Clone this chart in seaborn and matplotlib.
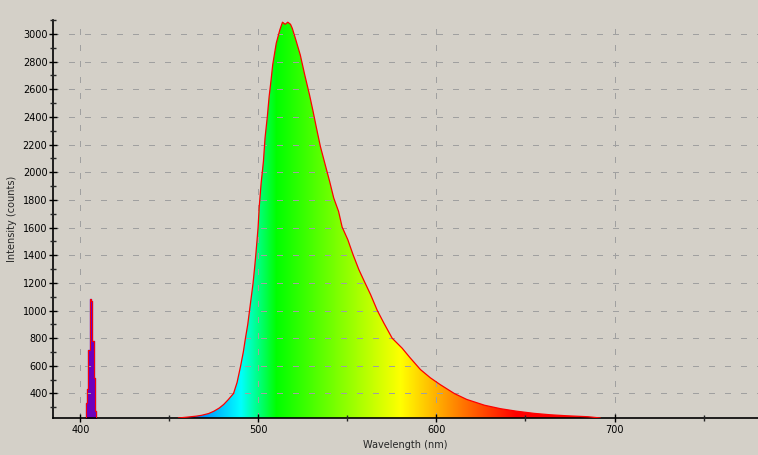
import numpy as np
import matplotlib
matplotlib.use('Agg')
import matplotlib.pyplot as plt
import seaborn as sns

# emission spectrum (nm, counts)
wavelength = [455, 460, 465, 468, 472, 475, 478, 480.5, 483, 486, 488, 490, 491.5,
              492.7, 494, 495, 496, 497, 498, 498.5, 499.8, 500.4, 501.5, 502.8,
              503.7, 505, 506, 507, 508, 510, 512, 513.5, 515, 516.5, 518, 519,
              521, 523.5, 526, 528.7, 530.7, 532.6, 534.8, 537.5, 540, 542.3, 545,
              547, 550.2, 553.2, 556.4, 559.6, 563, 566.7, 570.5, 575.1, 580.7,
              585.2, 591, 596.6, 602, 610, 617, 627, 636, 645, 655, 664, 673,
              685, 692]
counts = [223, 229, 236, 242, 255, 272, 295, 321, 355, 400, 480, 600, 700,
          800, 900, 1000, 1100, 1200, 1330, 1400, 1600, 1743, 1920, 2078,
          2247, 2403, 2547, 2656, 2776, 2933, 3029, 3085, 3070, 3085, 3070, 3041,
          2957, 2848, 2704, 2559, 2439, 2319, 2186, 2054, 1933, 1813, 1717,
          1604, 1512, 1402, 1296, 1207, 1115, 1002, 908, 800, 728,
          658, 573, 513, 465, 400, 357, 315, 290, 272, 256, 246, 239,
          232, 223]

# excitation laser line
laser_wl = [402.9, 403.5, 404.2, 404.8, 405.6, 406.3, 407.0, 407.8, 408.5, 409.0]
laser_counts = [223, 333, 434, 711, 1086, 1072, 778, 513, 273, 223]

x_ticks = [400, 500, 600, 700]
y_ticks = list(range(400, 3001, 200))

bg = '#d4d0c8'


def wl_to_rgb(w):
    if w < 440:
        r, g, b = (440 - w) / 60, 0.0, 1.0
    elif w < 490:
        r, g, b = 0.0, (w - 440) / 50, 1.0
    elif w < 510:
        r, g, b = 0.0, 1.0, (510 - w) / 20
    elif w < 580:
        r, g, b = (w - 510) / 70, 1.0, 0.0
    elif w < 645:
        r, g, b = 1.0, (645 - w) / 65, 0.0
    else:
        r, g, b = 1.0, 0.0, 0.0
    f = 1.0
    if w < 420:
        f = 0.3 + 0.7 * (w - 380) / 40
    return (r * f, g * f, b * f)


sns.set_style('ticks', {'axes.facecolor': bg, 'figure.facecolor': bg})
plt.rcParams['font.family'] = ['DejaVu Sans']
plt.rcParams['font.size'] = 7

fig = plt.figure(figsize=(7.58, 4.55), dpi=100)
ax = fig.add_axes([53 / 758, 37 / 455, 705 / 758, 398 / 455])

x0, x1 = 384.6, 780.6
y0, y1 = 222.8, 3101

# colour gradient clipped by the spectrum shape
grid_wl = np.linspace(x0, x1, 800)
img = np.array([[wl_to_rgb(w) for w in grid_wl]])
im = ax.imshow(img, extent=[x0, x1, y0, y1], aspect='auto', origin='lower',
               interpolation='bilinear', zorder=1)
poly = ax.fill_between(wavelength, y0, counts, facecolor='none', edgecolor='none')
im.set_clip_path(poly.get_paths()[0], transform=ax.transData)

ax.fill_between(laser_wl, y0, laser_counts, step='mid', color=wl_to_rgb(405), zorder=1)

sns.lineplot(x=wavelength, y=counts, color='red', lw=0.9, ax=ax, zorder=3)
sns.lineplot(x=laser_wl, y=laser_counts, color='red', lw=0.7, ax=ax, zorder=3,
             drawstyle='steps-mid')

ax.set_xlim(x0, x1)
ax.set_ylim(y0, y1)
ax.set_xticks(x_ticks)
ax.set_xticks(np.arange(450, 781, 100), minor=True)
ax.set_yticks(y_ticks)
ax.set_yticks(np.arange(300, 3101, 200), minor=True)
ax.tick_params(axis='both', which='major', direction='inout', length=6, width=1,
               labelsize=7, colors='black')
ax.tick_params(axis='both', which='minor', direction='inout', length=4, width=1)
ax.tick_params(axis='y', pad=1)
ax.tick_params(axis='x', pad=2)

ax.grid(True, which='major', color='#a0a0a0', lw=0.75, linestyle=(0, (5, 10)),
        antialiased=False)
ax.set_axisbelow(False)

sns.despine(ax=ax)
for s in ['left', 'bottom']:
    ax.spines[s].set_linewidth(1.2)
    ax.spines[s].set_color('black')

ax.set_xlabel('Wavelength (nm)', fontsize=7, labelpad=4)
ax.set_ylabel('Intensity (counts)', fontsize=7, labelpad=4)

fig.savefig('out.png', dpi=100, facecolor=bg)
